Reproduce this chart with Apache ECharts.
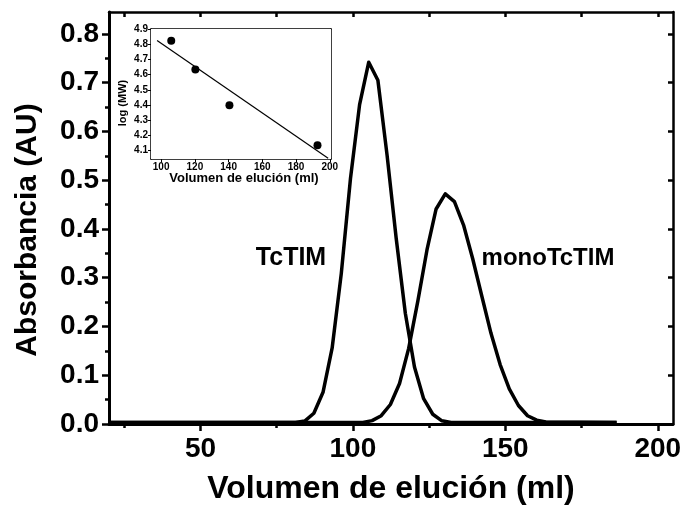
<!DOCTYPE html>
<html>
<head>
<meta charset="utf-8">
<script src="https://cdn.jsdelivr.net/npm/echarts@6/dist/echarts.min.js"></script>
<style>
  html, body { margin: 0; padding: 0; background: #fff; }
  #chart { width: 688px; height: 508px; }
</style>
</head>
<body>
<div id="chart"></div>
<script>
// Elution profiles (absorbance vs. elution volume)
const tctimVol = [20.5, 81.2, 84.2, 87.2, 90.2, 93.2, 96.2, 99.2, 102.2, 105.2, 108.2, 111.2, 114.2, 117.2, 120.2, 123.2, 126.2, 129.2, 132.2, 186.5];
const tctimAbs = [0.003, 0.003, 0.006, 0.022, 0.065, 0.156, 0.309, 0.503, 0.655, 0.742, 0.705, 0.552, 0.381, 0.227, 0.117, 0.052, 0.020, 0.0065, 0.003, 0.003];

const monoVol = [20.5, 103.3, 106.3, 109.3, 112.3, 115.3, 118.3, 121.3, 124.3, 127.3, 130.3, 133.3, 136.3, 139.3, 142.3, 145.3, 148.3, 151.3, 154.3, 157.3, 160.3, 163.3, 186.5];
const monoAbs = [0.003, 0.003, 0.007, 0.017, 0.040, 0.083, 0.155, 0.252, 0.357, 0.441, 0.472, 0.456, 0.408, 0.339, 0.262, 0.186, 0.122, 0.072, 0.038, 0.017, 0.008, 0.004, 0.003];

// Calibration standards (inset)
const stdVol = [106.0, 120.3, 140.5, 192.7];
const stdLogMW = [4.823, 4.633, 4.398, 4.135];
const fitVol = [97.6, 199.0];
const fitLogMW = [4.825, 4.050];

// Tick values
const xMajorTicks = [50, 100, 150, 200];
const xMinorTicks = [25, 75, 125, 175];
const xAllTicks = [25, 50, 75, 100, 125, 150, 175, 200];
const yMajorTicks = [0, 0.1, 0.2, 0.3, 0.4, 0.5, 0.6, 0.7, 0.8];
const yMinorTicks = [0.05, 0.15, 0.25, 0.35, 0.45, 0.55, 0.65, 0.75];
const insetXTicks = [100, 120, 140, 160, 180, 200];
const insetYTicks = [4.1, 4.2, 4.3, 4.4, 4.5, 4.6, 4.7, 4.8, 4.9];

const FONT = 'Liberation Sans, Arial, Helvetica, sans-serif';
const pairs = (xs, ys) => xs.map((x, i) => [x, ys[i]]);

const chart = echarts.init(document.getElementById('chart'), null, { renderer: 'canvas' });

const lineAxis = (w) => ({ show: true, onZero: false, lineStyle: { color: '#000', width: w } });

chart.setOption({
  backgroundColor: '#fff',
  animation: false,
  grid: [
    { left: 109, right: 15, top: 12, bottom: 84, containLabel: false },
    { left: 151, right: 357, top: 29, bottom: 349, containLabel: false,
      show: true, backgroundColor: '#fff', borderWidth: 0, z: 5 }
  ],
  xAxis: [
    { // main bottom, major ticks + labels
      gridIndex: 0, type: 'value', min: 20, max: 205, position: 'bottom',
      axisLine: lineAxis(3),
      axisTick: { show: true, customValues: xMajorTicks, length: 7, inside: false, lineStyle: { width: 2.5, color: '#000' } },
      axisLabel: { show: true, customValues: xMajorTicks, fontSize: 28, fontWeight: 'bold', fontFamily: FONT, color: '#000', margin: 11 },
      splitLine: { show: false }
    },
    { // main bottom, minor ticks
      gridIndex: 0, type: 'value', min: 20, max: 205, position: 'bottom', offset: 0,
      axisLine: { show: false },
      axisTick: { show: true, customValues: xMinorTicks, length: 4, inside: false, lineStyle: { width: 2.5, color: '#000' } },
      axisLabel: { show: false },
      splitLine: { show: false }
    },
    { // main top frame
      gridIndex: 0, type: 'value', min: 20, max: 205, position: 'top',
      axisLine: lineAxis(2.5),
      axisTick: { show: true, customValues: xAllTicks, length: 5, inside: true, lineStyle: { width: 2.5, color: '#000' } },
      axisLabel: { show: false },
      splitLine: { show: false }
    },
    { // inset bottom
      gridIndex: 1, type: 'value', min: 94, max: 200.7, position: 'bottom',
      axisLine: lineAxis(1.5),
      axisTick: { show: true, customValues: insetXTicks, length: 3, lineStyle: { width: 1, color: '#000' } },
      axisLabel: { show: true, customValues: insetXTicks, fontSize: 10, fontWeight: 'bold', fontFamily: FONT, color: '#000', margin: 3 },
      splitLine: { show: false }
    },
    { // inset top frame
      gridIndex: 1, type: 'value', min: 94, max: 200.7, position: 'top',
      axisLine: lineAxis(1.5), axisTick: { show: false }, axisLabel: { show: false }, splitLine: { show: false }
    }
  ],
  yAxis: [
    { // main left, major ticks + labels
      gridIndex: 0, type: 'value', min: 0, max: 0.845, position: 'left',
      axisLine: lineAxis(3),
      axisTick: { show: true, customValues: yMajorTicks, length: 7, inside: false, lineStyle: { width: 2.5, color: '#000' } },
      axisLabel: { show: true, customValues: yMajorTicks, fontSize: 28, fontWeight: 'bold', fontFamily: FONT, color: '#000', margin: 10,
        formatter: (v) => v.toFixed(1) },
      splitLine: { show: false }
    },
    { // main left, minor ticks
      gridIndex: 0, type: 'value', min: 0, max: 0.845, position: 'left', offset: 0,
      axisLine: { show: false },
      axisTick: { show: true, customValues: yMinorTicks, length: 4, inside: false, lineStyle: { width: 2.5, color: '#000' } },
      axisLabel: { show: false },
      splitLine: { show: false }
    },
    { // main right frame
      gridIndex: 0, type: 'value', min: 0, max: 0.845, position: 'right',
      axisLine: lineAxis(2.5),
      axisTick: { show: true, customValues: yMajorTicks, length: 5, inside: true, lineStyle: { width: 2.5, color: '#000' } },
      axisLabel: { show: false },
      splitLine: { show: false }
    },
    { // inset left
      gridIndex: 1, type: 'value', min: 4.045, max: 4.9, position: 'left',
      axisLine: lineAxis(1.5),
      axisTick: { show: true, customValues: insetYTicks, length: 3, lineStyle: { width: 1, color: '#000' } },
      axisLabel: { show: true, customValues: insetYTicks, fontSize: 10, fontWeight: 'bold', fontFamily: FONT, color: '#000', margin: 3,
        formatter: (v) => v.toFixed(1) },
      splitLine: { show: false }
    },
    { // inset right frame
      gridIndex: 1, type: 'value', min: 4.045, max: 4.9, position: 'right',
      axisLine: lineAxis(1.5), axisTick: { show: false }, axisLabel: { show: false }, splitLine: { show: false }
    }
  ],
  series: [
    {
      name: 'TcTIM', type: 'line', xAxisIndex: 0, yAxisIndex: 0,
      data: pairs(tctimVol, tctimAbs), symbol: 'none', smooth: false,
      lineStyle: { color: '#000', width: 3.5, join: 'round' }, z: 3
    },
    {
      name: 'monoTcTIM', type: 'line', xAxisIndex: 0, yAxisIndex: 0,
      data: pairs(monoVol, monoAbs), symbol: 'none', smooth: false,
      lineStyle: { color: '#000', width: 3.5, join: 'round' }, z: 3
    },
    {
      name: 'ajuste', type: 'line', xAxisIndex: 3, yAxisIndex: 3,
      data: pairs(fitVol, fitLogMW), symbol: 'none',
      lineStyle: { color: '#000', width: 1.2 }, z: 6
    },
    {
      name: 'estándares', type: 'scatter', xAxisIndex: 3, yAxisIndex: 3,
      data: pairs(stdVol, stdLogMW), symbol: 'circle', symbolSize: 8,
      itemStyle: { color: '#000', opacity: 1 }, z: 7
    }
  ],
  graphic: [
    { type: 'text', x: 391, y: 489, z: 10,
      style: { text: 'Volumen de elución (ml)', fontSize: 32, fontWeight: 'bold', fontFamily: FONT, fill: '#000', align: 'center', verticalAlign: 'middle' } },
    { type: 'text', x: 28, y: 230, rotation: Math.PI / 2, z: 10,
      style: { text: 'Absorbancia (AU)', fontSize: 30, fontWeight: 'bold', fontFamily: FONT, fill: '#000', align: 'center', verticalAlign: 'middle' } },
    { type: 'text', x: 291, y: 258, z: 10,
      style: { text: 'TcTIM', fontSize: 25, fontWeight: 'bold', fontFamily: FONT, fill: '#000', align: 'center', verticalAlign: 'middle' } },
    { type: 'text', x: 548, y: 258, z: 10,
      style: { text: 'monoTcTIM', fontSize: 24, fontWeight: 'bold', fontFamily: FONT, fill: '#000', align: 'center', verticalAlign: 'middle' } },
    { type: 'text', x: 244, y: 178, z: 10,
      style: { text: 'Volumen de elución (ml)', fontSize: 13, fontWeight: 'bold', fontFamily: FONT, fill: '#000', align: 'center', verticalAlign: 'middle' } },
    { type: 'text', x: 123, y: 103, rotation: Math.PI / 2, z: 10,
      style: { text: 'log (MW)', fontSize: 11, fontWeight: 'bold', fontFamily: FONT, fill: '#000', align: 'center', verticalAlign: 'middle' } }
  ]
});
</script>
</body>
</html>
